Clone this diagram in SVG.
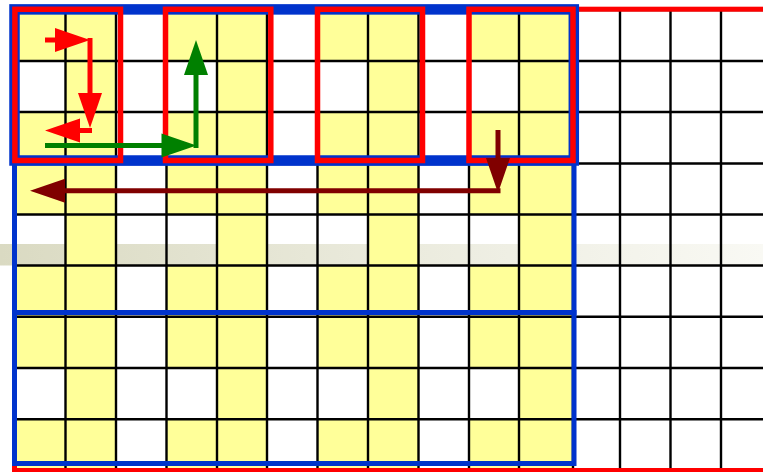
<svg xmlns="http://www.w3.org/2000/svg" xmlns:xlink="http://www.w3.org/1999/xlink" width="763" height="472" viewBox="0 0 763 472">
  <style>
    .cell { fill: #ffff99; }
    .gl { stroke: #000; stroke-width: 2.4; fill: none; }
    .blue { fill: none; stroke: #0033cc; }
    .red { fill: none; stroke: #ff0000; }
    .arr { fill: none; stroke-width: 5; stroke-linecap: butt; stroke-linejoin: miter; }
  </style>
  <defs>
    <linearGradient id="band" x1="0" y1="0" x2="1" y2="0">
      <stop offset="0" stop-color="#dadac2"/>
      <stop offset="0.5" stop-color="#eaeadc"/>
      <stop offset="1" stop-color="#f9f9f4"/>
    </linearGradient>
    <!-- column of cells shaded in rows 0, 2-3, 5-6 and 8 -->
    <g id="sideCol" class="cell">
      <rect x="0" y="10" width="51" height="51"/>
      <rect x="0" y="112" width="51" height="102.5"/>
      <rect x="0" y="265.5" width="51" height="102.5"/>
      <rect x="0" y="419.3" width="51" height="53"/>
    </g>
    <marker id="headRed" markerUnits="userSpaceOnUse" markerWidth="40" markerHeight="30" refX="20" refY="12" orient="auto" overflow="visible">
      <path d="M0,0 L35,12 L0,24 Z" fill="#ff0000"/>
    </marker>
    <marker id="headGreen" markerUnits="userSpaceOnUse" markerWidth="40" markerHeight="30" refX="20" refY="12" orient="auto" overflow="visible">
      <path d="M0,0 L35,12 L0,24 Z" fill="#008000"/>
    </marker>
    <marker id="headDark" markerUnits="userSpaceOnUse" markerWidth="40" markerHeight="30" refX="20" refY="12" orient="auto" overflow="visible">
      <path d="M0,0 L35,12 L0,24 Z" fill="#800000"/>
    </marker>
  </defs>

  <rect width="763" height="472" fill="#ffffff"/>
  <!-- faded horizontal band -->
  <rect x="0" y="244" width="763" height="21.5" fill="url(#band)"/>

  <!-- shaded cells -->
  <g id="cells">
    <use xlink:href="#sideCol" x="15"/>
    <use xlink:href="#sideCol" x="166.5"/>
    <use xlink:href="#sideCol" x="317.5"/>
    <use xlink:href="#sideCol" x="469"/>
    <rect class="cell" x="65.5" y="10" width="50.5" height="462"/>
    <rect class="cell" x="217" y="10" width="50" height="462"/>
    <rect class="cell" x="368" y="10" width="50.5" height="462"/>
    <rect class="cell" x="519" y="10" width="54" height="462"/>
  </g>

  <!-- grid lines -->
  <g id="grid" class="gl">
    <path d="M15,10 H763 M15,61 H763 M15,112 H763 M15,163.5 H763 M15,214.5 H763 M15,265.5 H763 M15,316.8 H763 M15,368 H763 M15,419.3 H763 M15,470 H763"/>
    <path d="M15,10 V472 M65.5,10 V472 M116,10 V472 M166.5,10 V472 M217,10 V472 M267,10 V472 M317.5,10 V472 M368,10 V472 M418.5,10 V472 M469,10 V472 M519,10 V472 M573,10 V472 M620,10 V472 M670.5,10 V472 M721,10 V472"/>
  </g>

  <!-- outer frame of the whole grid -->
  <rect id="frame" class="red" x="14.5" y="9.2" width="800" height="461.3" stroke-width="5"/>

  <!-- row bands -->
  <g id="bandTop">
    <rect class="blue" x="14.5" y="9.4" width="559.3" height="151.1" stroke-width="10.5"/>
  </g>
  <g id="bandMid">
    <rect class="blue" x="14.5" y="163" width="559.5" height="149.5" stroke-width="5"/>
  </g>
  <g id="bandLow">
    <rect class="blue" x="14.5" y="312.5" width="559.5" height="151" stroke-width="5"/>
  </g>

  <!-- column-pair blocks of the top band -->
  <g id="block1"><rect class="red" x="14.9" y="9.3" width="105.6" height="151.2" stroke-width="5.5"/></g>
  <g id="block2"><rect class="red" x="165.5" y="9.3" width="105.3" height="151.2" stroke-width="5.5"/></g>
  <g id="block3"><rect class="red" x="317.5" y="9.3" width="105" height="151.2" stroke-width="5.5"/></g>
  <g id="block4"><rect class="red" x="469" y="9.3" width="104" height="151.2" stroke-width="5.5"/></g>

  <!-- traversal arrows -->
  <g id="connectors" class="arr">
    <path d="M45,40 H75" stroke="#ff0000" marker-end="url(#headRed)"/>
    <path d="M90,38 V113" stroke="#ff0000" marker-end="url(#headRed)"/>
    <path d="M92,130.5 H60" stroke="#ff0000" marker-end="url(#headRed)"/>
    <path d="M45,145.5 H181.5" stroke="#008000" marker-end="url(#headGreen)"/>
    <path d="M196,148 V55" stroke="#008000" marker-end="url(#headGreen)"/>
    <path d="M498,130 V178" stroke="#800000" marker-end="url(#headDark)"/>
    <path d="M500.5,190.8 H45" stroke="#800000" marker-end="url(#headDark)"/>
  </g>
</svg>
